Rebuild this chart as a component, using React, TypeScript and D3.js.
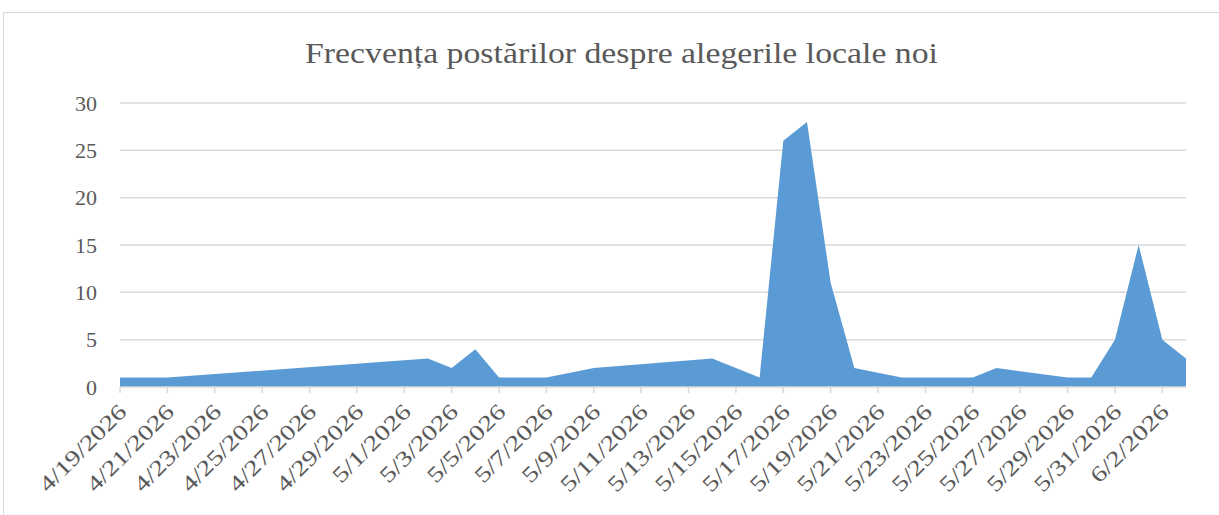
import * as d3 from 'd3'
import React from 'react'

const dates = [
  '2026-04-19', '2026-04-21', '2026-05-02', '2026-05-03', '2026-05-04', '2026-05-05',
  '2026-05-07', '2026-05-09', '2026-05-14', '2026-05-16', '2026-05-17', '2026-05-18',
  '2026-05-19', '2026-05-20', '2026-05-22', '2026-05-25', '2026-05-26', '2026-05-29',
  '2026-05-30', '2026-05-31', '2026-06-01', '2026-06-02', '2026-06-03',
]
const posts = [1, 1, 3, 2, 4, 1, 1, 2, 3, 1, 26, 28, 11, 2, 1, 1, 2, 1, 1, 5, 15, 5, 3]
const yTicks = [0, 5, 10, 15, 20, 25, 30]
const title = 'Frecvența postărilor despre alegerile locale noi'

const W = 1219, H = 515
const font = '"Liberation Serif", "DejaVu Serif", serif'
const textColor = '#595959'
const gridColor = '#d9d9d9'

export default function App() {
  const
    parse = d3.utcParse('%Y-%m-%d'),
    points = dates.map((d, i) => ({ date: parse(d)!, value: posts[i] })),
    first = points[0].date,
    last = points[points.length - 1].date,
    x = d3.scaleUtc().domain([first, last]).range([120, 1186]),
    y = d3.scaleLinear().domain([0, 30]).range([387, 103]),
    area = d3.area<{ date: Date, value: number }>()
      .x(d => x(d.date))
      .y0(y(0))
      .y1(d => y(d.value)),
    tickDates = d3.utcDay.range(first, d3.utcDay.offset(last, 1)).filter((_, i) => i % 2 === 0),
    fmt = (d: Date) => `${d.getUTCMonth() + 1}/${d.getUTCDate()}/${d.getUTCFullYear()}`

  return (
    <svg width={W} height={H} style={{ position: 'absolute', left: 0, top: 0, background: '#fff' }}>
      <rect x={3.5} y={12.5} width={W + 20} height={H + 20} fill='#fff' stroke={gridColor} />
      <text x={621.5} y={63} textAnchor='middle' fontFamily={font} fontSize={30} fill={textColor}
        textLength={633} lengthAdjust='spacingAndGlyphs'>{title}</text>
      {yTicks.map(t => (
        <g key={t}>
          {t > 0 && <line x1={120} x2={1186} y1={y(t)} y2={y(t)} stroke={gridColor} strokeWidth={1.5} />}
          <text x={97} y={y(t)} dy='0.35em' textAnchor='end' fontFamily={font} fontSize={22} fill={textColor}>{t}</text>
        </g>
      ))}
      <path d={area(points)!} fill='#5b9bd5' />
      <line x1={120} x2={1186} y1={y(0)} y2={y(0)} stroke={gridColor} strokeWidth={1.5} />
      {tickDates.map(d => (
        <g key={+d}>
          <line x1={x(d)} x2={x(d)} y1={y(0)} y2={y(0) + 6} stroke={gridColor} strokeWidth={1.5} />
          <text transform={`translate(${x(d) + 8},${y(0) + 26}) rotate(-45)`} textAnchor='end'
            fontFamily={font} fontSize={22} fill={textColor}
            textLength={fmt(d).length * 12.6} lengthAdjust='spacingAndGlyphs'>{fmt(d)}</text>
        </g>
      ))}
    </svg>
  )
}
